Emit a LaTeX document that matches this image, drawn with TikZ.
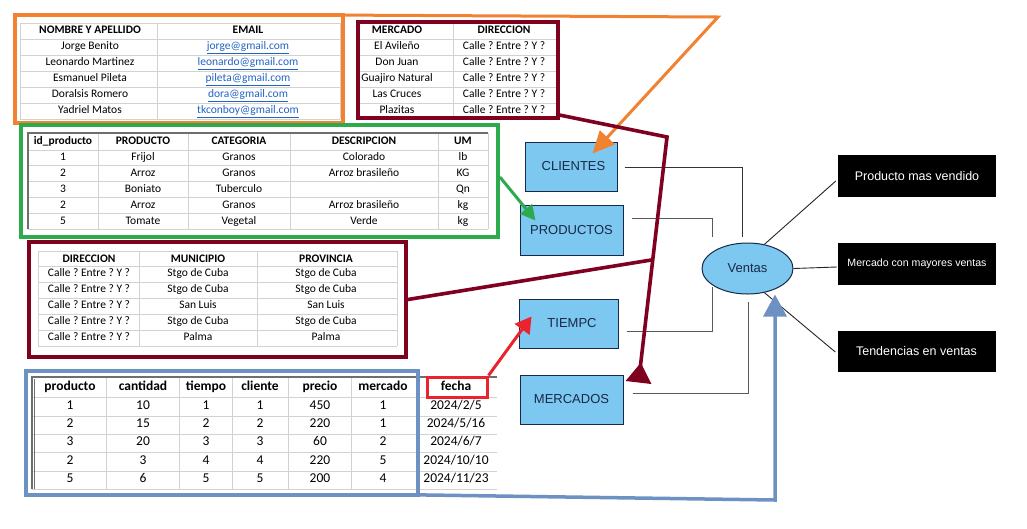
\documentclass[tikz,border=0pt]{standalone}
\usepackage{fontspec}
\setmainfont{Carlito}
\newfontfamily\arialf{Liberation Sans}
\usetikzlibrary{arrows.meta,shapes.geometric,calc}
\definecolor{orangec}{RGB}{240,130,50}
\definecolor{darkredc}{RGB}{128,0,32}
\definecolor{greenc}{RGB}{45,170,75}
\definecolor{bluec}{RGB}{110,145,195}
\definecolor{redc}{RGB}{235,35,45}
\definecolor{lightbluec}{RGB}{125,200,240}
\definecolor{navyc}{RGB}{25,40,70}
\definecolor{gridc}{RGB}{210,210,210}
\definecolor{borderc}{RGB}{110,110,110}
\definecolor{linkc}{RGB}{35,100,195}
\frenchspacing
\begin{document}
\begin{tikzpicture}[x=1pt,y=-1pt,
  tcell/.style={inner sep=0pt, text height=8pt, text depth=2.5pt, font=\frenchspacing\fontsize{11.5}{12}\selectfont},
  thead/.style={tcell, font=\fontsize{11.5}{12}\selectfont\bfseries},
  bcell/.style={inner sep=0pt, text height=9.5pt, text depth=3pt, font=\fontsize{13.5}{14}\selectfont},
  bhead/.style={bcell, font=\fontsize{13.5}{14}\selectfont\bfseries},
  gline/.style={draw=gridc, line width=0.8pt},
  bline/.style={draw=borderc, line width=1.2pt},
  tframe/.style={draw, line width=3.8pt, inner sep=0pt, fill=none},
  entity/.style={draw=navyc, fill=lightbluec, line width=1pt, inner sep=0pt, text=navyc, font=\arialf\fontsize{13}{14}\selectfont},
  kpi/.style={fill=black, text=white, inner sep=0pt, minimum width=158pt, minimum height=42pt, font=\arialf\fontsize{12.5}{14}\selectfont},
  hub/.style={ellipse, draw=navyc, fill=lightbluec, line width=1pt, inner sep=0pt, minimum width=91pt, minimum height=51pt, text=navyc, font=\arialf\fontsize{13}{14}\selectfont},
  conn/.style={draw=black!65, line width=1pt},
  kline/.style={draw=black!85, line width=0.9pt},
  oconn/.style={draw=orangec, line width=3pt, -{Triangle[length=22pt,width=20pt]}},
  rconn/.style={draw=darkredc, line width=3.6pt},
  gconn/.style={draw=greenc, line width=3pt, -{Triangle[length=15pt,width=15pt]}},
  fconn/.style={draw=redc, line width=3pt, -{Triangle[length=16pt,width=18pt]}},
  bconn/.style={draw=bluec, line width=3.5pt, -{Triangle[length=22pt,width=23pt]}}
]
\fill[white] (0,0) rectangle (1027,528);
\useasboundingbox (0,0) rectangle (1027,528);

% ---------- table 1: clients ----------
\foreach \y in {23,39,55,71,87,103,119} \draw[gline] (20,\y) -- (340,\y);
\foreach \x in {20,157,340} \draw[gline] (\x,23) -- (\x,119);
\node[thead] (t1h1) at (90,31) {NOMBRE Y APELLIDO};
\node[thead] (t1h2) at (248,31) {EMAIL};
\foreach \a/\b [count=\i] in {Jorge Benito/jorge@gmail.com, Leonardo Martinez/leonardo@gmail.com, Esmanuel Pileta/pileta@gmail.com, Doralsis Romero/dora@gmail.com, Yadriel Matos/tkconboy@gmail.com}{
  \node[tcell] (t1a\i) at (90,{31+16*\i}) {\a};
  \node[tcell, text=linkc] (t1b\i) at (248,{31+16*\i}) {\underline{\b}};
}

% ---------- table 2: markets ----------
\foreach \y in {23,39,55,71,87,103} \draw[gline] (358,\y) -- (556,\y);
\foreach \x in {453} \draw[gline] (\x,23) -- (\x,118);
\node[thead] (t2h1) at (397,31) {MERCADO};
\node[thead] (t2h2) at (504,31) {DIRECCION};
\foreach \a [count=\i] in {El Avileño, Don Juan, Guajiro Natural, Las Cruces, Plazitas}{
  \node[tcell] (t2a\i) at (397,{31+16*\i}) {\a};
  \node[tcell] (t2b\i) at (504,{31+16*\i}) {Calle ? Entre ? Y ?};
}

% ---------- table 3: products ----------
\foreach \y in {150,165,181,197,213,229} \draw[gline] (28,\y) -- (488,\y);
\foreach \x in {98,188,290,438,488} \draw[gline] (\x,133) -- (\x,229);
\draw[bline] (28,229) -- (28,133) -- (488,133);
\node[thead] (t3h1) at (63,141.5) {id\_producto};
\node[thead] (t3h2) at (143,141.5) {PRODUCTO};
\node[thead] (t3h3) at (239,141.5) {CATEGORIA};
\node[thead] (t3h4) at (364,141.5) {DESCRIPCION};
\node[thead] (t3h5) at (463,141.5) {UM};
\foreach \a/\b/\c/\d/\e [count=\i] in {1/Frijol/Granos/Colorado/lb, 2/Arroz/Granos/Arroz brasileño/KG, 3/Boniato/Tuberculo//Qn, 2/Arroz/Granos/Arroz brasileño/kg, 5/Tomate/Vegetal/Verde/kg}{
  \node[tcell] (t3a\i) at (63,{141.5+16*\i}) {\a};
  \node[tcell] (t3b\i) at (143,{141.5+16*\i}) {\b};
  \node[tcell] (t3c\i) at (239,{141.5+16*\i}) {\c};
  \node[tcell] (t3d\i) at (364,{141.5+16*\i}) {\d};
  \node[tcell] (t3e\i) at (463,{141.5+16*\i}) {\e};
}

% ---------- table 4: addresses ----------
\foreach \y in {251,266,282,298,314,330,346} \draw[gline] (38,\y) -- (397,\y);
\foreach \x in {38,139,257,397} \draw[gline] (\x,251) -- (\x,346);
\node[thead] (t4h1) at (89,259.5) {DIRECCION};
\node[thead] (t4h2) at (198,259.5) {MUNICIPIO};
\node[thead] (t4h3) at (326,259.5) {PROVINCIA};
\foreach \b/\c [count=\i] in {Stgo de Cuba/Stgo de Cuba, Stgo de Cuba/Stgo de Cuba, San Luis/San Luis, Stgo de Cuba/Stgo de Cuba, Palma/Palma}{
  \node[tcell] (t4a\i) at (89,{258+16*\i}) {Calle ? Entre ? Y ?};
  \node[tcell] (t4b\i) at (198,{258+16*\i}) {\b};
  \node[tcell] (t4c\i) at (326,{258+16*\i}) {\c};
}

% ---------- table 5: sales ----------
\foreach \y in {397,416,434,452,471,489} \draw[gline] (32,\y) -- (497,\y);
\foreach \x in {106,179,232,288,351,417} \draw[gline] (\x,377) -- (\x,489);
\draw[bline] (32,489) -- (32,377) -- (497,377);
\draw[bline, line width=0.6pt] (34.5,489) -- (34.5,379);
\foreach \h/\x [count=\i] in {producto/70, cantidad/143, tiempo/206, cliente/260, precio/320, mercado/383, fecha/456}{
  \node[bhead] (t5h\i) at (\x,387.5) {\h};
}
\foreach \a/\b/\c/\d/\e/\f/\g [count=\i] in {1/10/1/1/450/1/2024\slash 2\slash 5, 2/15/2/2/220/1/2024\slash 5\slash 16, 3/20/3/3/60/2/2024\slash 6\slash 7, 2/3/4/4/220/5/2024\slash 10\slash 10, 5/6/5/5/200/4/2024\slash 11\slash 23}{
  \node[bcell] (t5a\i) at (70,{387.5+18.4*\i}) {\a};
  \node[bcell] (t5b\i) at (143,{387.5+18.4*\i}) {\b};
  \node[bcell] (t5c\i) at (206,{387.5+18.4*\i}) {\c};
  \node[bcell] (t5d\i) at (260,{387.5+18.4*\i}) {\d};
  \node[bcell] (t5e\i) at (320,{387.5+18.4*\i}) {\e};
  \node[bcell] (t5f\i) at (383,{387.5+18.4*\i}) {\f};
  \node[bcell] (t5g\i) at (456,{387.5+18.4*\i}) {\g};
}

% ---------- frames ----------
\node[tframe, draw=orangec, minimum width=328pt, minimum height=108pt] (oframe) at (179,69) {};
\node[tframe, draw=darkredc, minimum width=200pt, minimum height=96pt] (mframe) at (458,70) {};
\node[tframe, draw=greenc, minimum width=477pt, minimum height=112pt] (gframe) at (259.5,181) {};
\node[tframe, draw=darkredc, minimum width=377pt, minimum height=115pt] (dframe) at (217.5,299.5) {};
\node[tframe, draw=bluec, minimum width=392pt, minimum height=124pt] (bframe) at (222,433) {};
\node[tframe, draw=redc, line width=3pt, minimum width=60pt, minimum height=20pt] (fbox) at (457,387) {};

% ---------- diagram ----------
\node[entity, minimum width=92pt, minimum height=49pt] (clientes) at (571,166.5) {\hspace{5pt}CLIENTES};
\node[entity, minimum width=103pt, minimum height=50pt] (productos) at (571.5,230) {PRODUCTOS};
\node[entity, minimum width=99pt, minimum height=49pt] (tiempc) at (568.5,323.5) {\hspace{7pt}TIEMPC};
\node[entity, minimum width=103pt, minimum height=49pt] (mercados) at (571.5,399.5) {MERCADOS\hspace{6pt}};
\node[hub] (ventas) at (747.5,268.5) {Ventas};
\node[kpi] (kpi1) at (917,176) {Producto mas vendido};
\node[kpi, font=\arialf\fontsize{10.6}{12}\selectfont] (kpi2) at (917,264) {Mercado con mayores ventas};
\node[kpi, minimum height=41pt] (kpi3) at (916.5,351.5) {Tendencias en ventas};

% gray connectors to Ventas
\coordinate (c1) at (742,237);
\coordinate (c2) at (712,237);
\coordinate (c3) at (712,287);
\coordinate (c4) at (748,302);
\draw[conn, draw=black!80] ($(clientes.east)+(7,0.5)$) -| (c1);
\draw[conn] ($(productos.east)+(8,-12)$) -| (c2);
\draw[conn] ($(tiempc.east)+(8,7.5)$) -| (c3);
\draw[conn] ($(mercados.east)+(9,-6.5)$) -| (c4);

% Ventas to results
\draw[kline] (ventas.55) -- ($(kpi1.west)+(-2,5)$);
\draw[kline] (ventas.east) -- ($(kpi2.west)+(-1,3)$);
\draw[kline] (ventas.-55) -- ($(kpi3.west)+(-2,0.5)$);

% coloured connectors
\coordinate (obend) at (718,17);
\coordinate (otip) at ($(clientes.north west)+(68,12)$);
\draw[oconn] ($(oframe.north east)+(0,2)$) -- (obend) -- (otip);

\coordinate (gtip) at ($(productos.north west)+(16,16)$);
\draw[gconn] ($(gframe.east)+(0,-4)$) -- (gtip);

\coordinate (rbend) at (667,137);
\coordinate (rtip) at ($(mercados.north east)+(15,8)$);
\draw[rconn, -{Triangle[reversed,length=20pt,width=25pt]}] ($(mframe.south east)+(-1,-5)$) -- (rbend) -- (rtip);
\coordinate (rj) at ($(rbend)!0.5!(rtip)$);
\draw[rconn] (dframe.east) -- (rj);

\coordinate (ftip) at ($(tiempc.north west)+(13,18)$);
\draw[fconn] (fbox.north east) -- (ftip);

\coordinate (bbend) at (775,500);
\draw[bconn] ($(bframe.south east)+(0,-2)$) -- (bbend) -- (bbend |- ventas.south);
\end{tikzpicture}
\end{document}
